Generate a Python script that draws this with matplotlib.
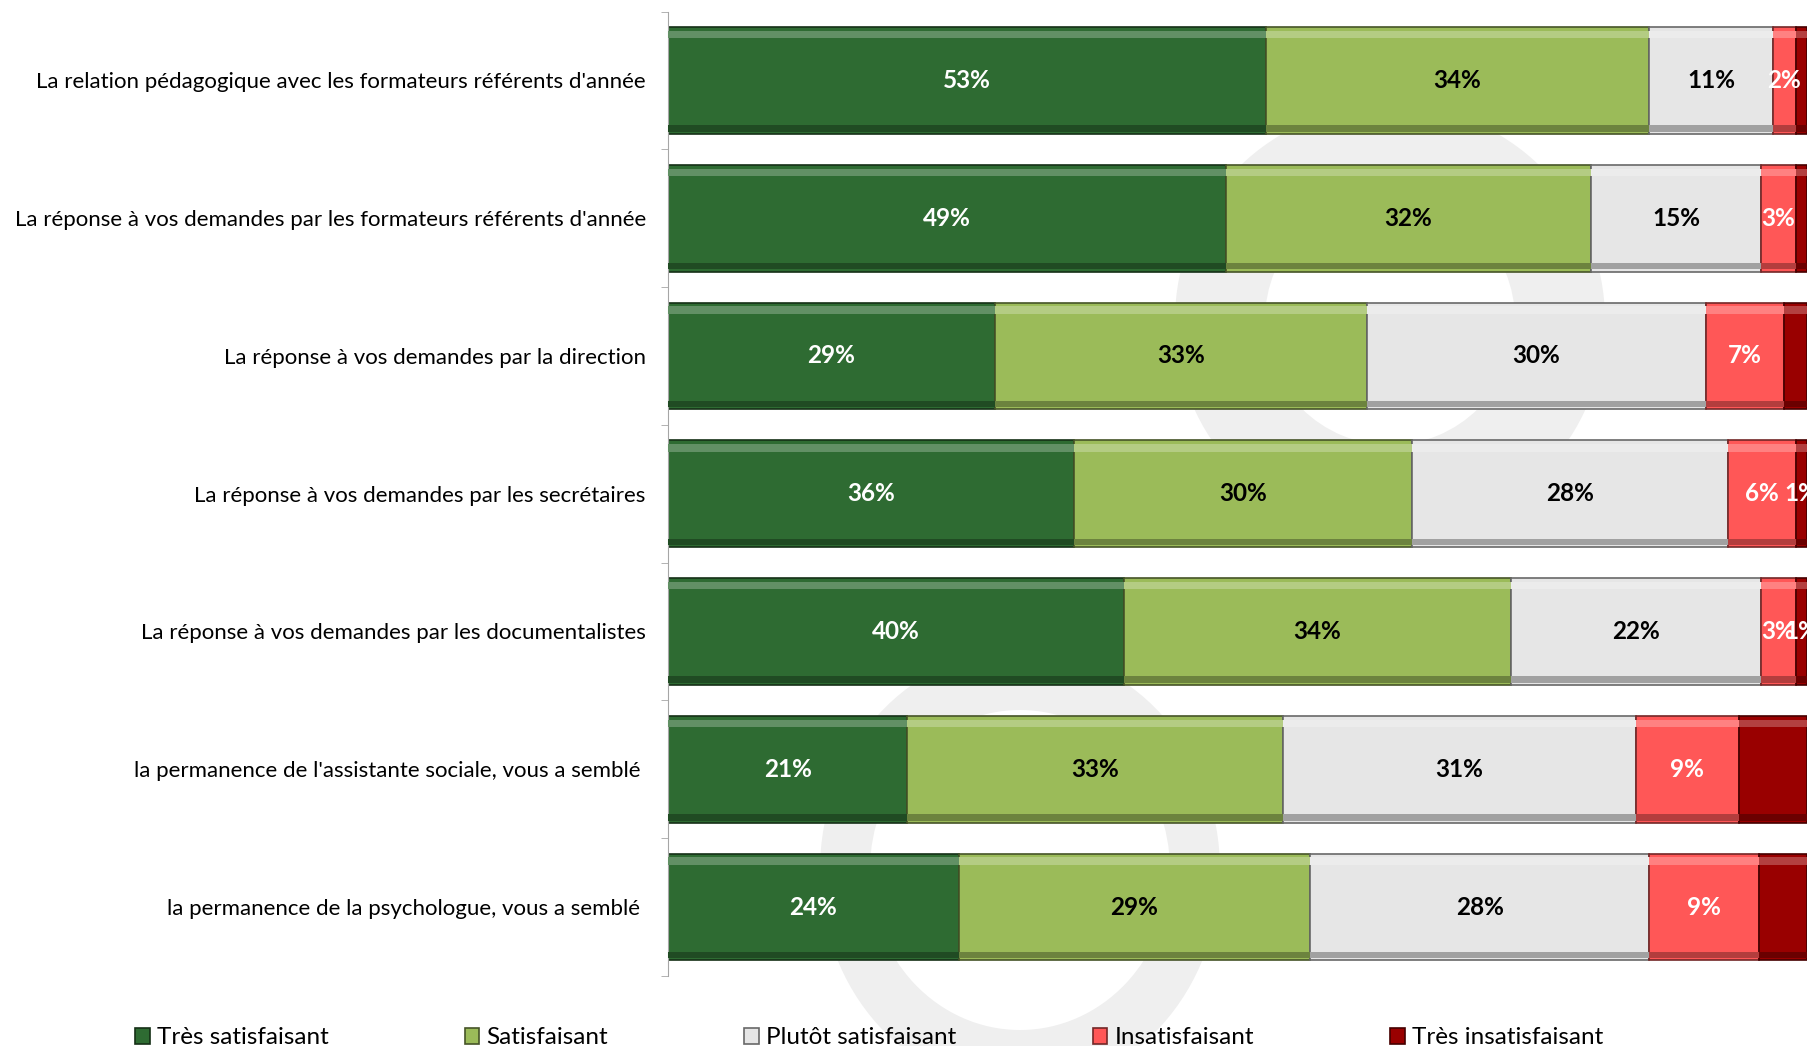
import matplotlib.pyplot as plt
import matplotlib.colors as mcolors
from matplotlib.patches import Wedge, Ellipse
from matplotlib.ticker import FixedLocator
import numpy as np

plt.rcParams['font.family'] = ['Lato', 'DejaVu Sans']

# Data (percent of answers per row, 100% stacked)
categories = [
    "La relation pédagogique avec les formateurs référents d'année",
    "La réponse à vos demandes par les formateurs référents d'année",
    "La réponse à vos demandes par la direction",
    "La réponse à vos demandes par les secrétaires",
    "La réponse à vos demandes par les documentalistes",
    "la permanence de l'assistante sociale, vous a semblé ",
    "la permanence de la psychologue, vous a semblé ",
]
series = ['Très satisfaisant', 'Satisfaisant', 'Plutôt satisfaisant',
          'Insatisfaisant', 'Très insatisfaisant']
tres_satisfaisant = [53, 49, 29, 36, 40, 21, 24]
satisfaisant = [34, 32, 33, 30, 34, 33, 29]
plutot_satisfaisant = [11, 15, 30, 28, 22, 31, 28]
insatisfaisant = [2, 3, 7, 6, 3, 9, 9]
tres_insatisfaisant = [1, 1, 2, 1, 1, 6, 4]
# which "Très insatisfaisant" values carry a visible label
tres_insat_labelled = [False, False, False, True, True, False, False]

colors = ['#2e6b32', '#9bbb59', '#e6e6e6', '#ff5757', '#990000']
text_colors = ['white', 'black', 'black', 'white', 'white']


def shade(c, f):
    r, g, b = mcolors.to_rgb(c)
    if f < 1:
        return (r * f, g * f, b * f)
    return (r + (1 - r) * (f - 1), g + (1 - g) * (f - 1), b + (1 - b) * (f - 1))


fig = plt.figure(figsize=(18.07, 10.46), dpi=100)

# faint watermark shapes in the background
bg = fig.add_axes([0, 0, 1, 1], zorder=-1)
bg.set_xlim(0, 1807)
bg.set_ylim(1046, 0)
bg.set_aspect('equal')
bg.axis('off')
wm = '#efefef'
bg.add_patch(Ellipse((1020, 870), 400, 440, color=wm, lw=0))
bg.add_patch(Ellipse((1020, 870), 300, 320, color='white', lw=0))
bg.add_patch(Wedge((1390, 320), 215, 0, 360, width=90, color=wm, lw=0))

ax = fig.add_axes([0.3697, 0.067, 0.6303, 0.922])
ax.patch.set_alpha(0)

data = np.array([tres_satisfaisant, satisfaisant, plutot_satisfaisant,
                 insatisfaisant, tres_insatisfaisant], dtype=float)
shares = data / data.sum(axis=0)
y = np.arange(len(categories))
h = 0.775
left = np.zeros(len(categories))

for i, name in enumerate(series):
    c = colors[i]
    w = shares[i]
    ax.barh(y, w, left=left, height=h, color=c, edgecolor=shade(c, 0.45),
            linewidth=1.2, label=name, zorder=2)
    # bevel: light strip on top, dark strip at bottom
    ax.barh(y - h / 2 + h * 0.07, w, left=left, height=h * 0.07,
            color=shade(c, 1.25), linewidth=0, zorder=3)
    ax.barh(y + h / 2 - h * 0.05, w, left=left, height=h * 0.06,
            color=shade(c, 0.7), linewidth=0, zorder=3)
    for j in range(len(categories)):
        if i == 4 and not tres_insat_labelled[j]:
            continue
        ax.text(left[j] + w[j] / 2, y[j], f"{int(data[i, j])}%",
                ha='center', va='center', fontsize=17.5, fontweight='bold',
                color=text_colors[i], zorder=4, clip_on=False)
    left += w

ax.set_xlim(0, 1)
ax.set_ylim(len(categories) - 0.5, -0.5)
ax.set_yticks(y)
ax.set_yticklabels(categories, fontsize=16)
ax.yaxis.set_minor_locator(FixedLocator(np.arange(-0.5, len(categories), 1)))
ax.tick_params(axis='y', which='major', length=0, pad=16)
ax.tick_params(axis='y', which='minor', length=5, color='#a6a6a6', direction='out')
ax.set_xticks([])
for s in ['top', 'right', 'bottom']:
    ax.spines[s].set_visible(False)
ax.spines['left'].set_color('#a6a6a6')

leg = fig.legend(loc='lower left', bbox_to_anchor=(0.068, -0.014), ncol=5,
                 frameon=False, fontsize=17.5, handlelength=0.6, handleheight=0.6,
                 handletextpad=0.3, columnspacing=5.6, borderpad=0)

fig.savefig('out.png', dpi=100)
